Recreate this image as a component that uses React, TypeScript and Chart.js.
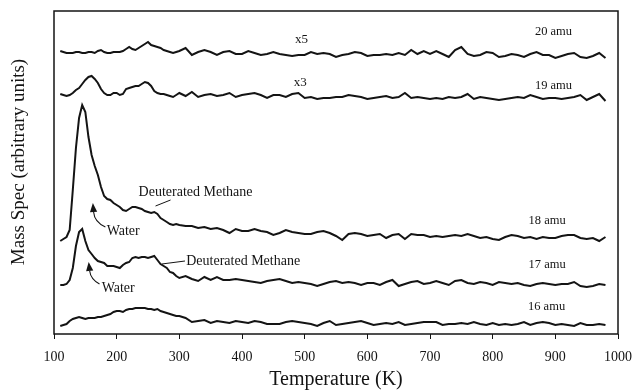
import React, { useEffect, useRef } from "react";
import { Chart, registerables } from "chart.js";

Chart.register(...registerables);

// Temperature grid (K)
const temperatures = [
  110, 115, 120, 125, 130, 135, 140, 145, 150, 155,
  160, 165, 170, 175, 180, 185, 190, 195, 200, 205,
  210, 215, 220, 225, 230, 235, 240, 245, 250, 255,
  260, 265, 270, 275, 280, 285, 290, 295, 300,
  310, 320, 330, 340, 350, 360, 370, 380, 390, 400,
  410, 420, 430, 440, 450, 460, 470, 480, 490, 500,
  510, 520, 530, 540, 550, 560, 570, 580, 590, 600,
  610, 620, 630, 640, 650, 660, 670, 680, 690, 700,
  710, 720, 730, 740, 750, 760, 770, 780, 790, 800,
  810, 820, 830, 840, 850, 860, 870, 880, 890, 900,
  910, 920, 930, 940, 950, 960, 970, 980,
];

// Offset traces, arbitrary units
const amu20 = [
  283, 282, 281, 281, 281, 282, 282, 281, 281, 282,
  282, 281, 283, 284, 282, 281, 281, 282, 282, 282,
  283, 285, 287, 285, 284, 286, 288, 290, 292, 289,
  288, 287, 286, 284, 283, 282, 281, 282, 283,
  286, 279, 282, 284, 282, 279, 282, 283, 280, 280,
  283, 281, 279, 280, 282, 280, 279, 278, 279, 279,
  282, 280, 281, 280, 277, 279, 280, 282, 281, 278,
  279, 279, 280, 279, 281, 279, 284, 280, 283, 280,
  283, 280, 277, 284, 287, 280, 278, 279, 282, 281,
  277, 278, 280, 279, 277, 280, 282, 279, 279, 276,
  278, 280, 281, 277, 276, 278, 281, 276,
];

const amu19 = [
  240, 239, 238, 239, 241, 244, 246, 250, 254, 257,
  258, 255, 251, 245, 241, 239, 239, 241, 241, 239,
  240, 245, 246, 247, 248, 248, 250, 252, 251, 248,
  243, 241, 240, 240, 239, 238, 237, 239, 241,
  238, 242, 237, 239, 240, 238, 239, 241, 237, 239,
  240, 241, 239, 236, 239, 239, 237, 240, 241, 236,
  237, 235, 236, 236, 237, 237, 239, 238, 237, 235,
  236, 237, 238, 236, 237, 241, 236, 237, 236, 235,
  236, 235, 237, 236, 237, 240, 235, 237, 236, 235,
  234, 235, 236, 237, 236, 239, 237, 235, 236, 236,
  235, 236, 237, 239, 234, 237, 240, 233,
];

const amu18 = [
  93, 95, 97, 104, 144, 186, 216, 229, 222, 197,
  179, 168, 159, 147, 138, 135, 134, 131, 129, 127,
  124, 123, 125, 127, 127, 126, 125, 123, 122, 121,
  122, 120, 116, 114, 112, 110, 109, 110, 109,
  108, 108, 106, 107, 105, 106, 104, 101, 105, 103,
  103, 105, 103, 102, 99, 101, 104, 102, 101, 100,
  100, 102, 103, 101, 98, 94, 100, 101, 100, 98,
  99, 100, 96, 99, 100, 95, 100, 99, 99, 97,
  98, 97, 98, 99, 98, 100, 98, 96, 97, 95,
  94, 97, 99, 98, 96, 97, 95, 97, 96, 96,
  98, 99, 99, 96, 95, 96, 93, 97,
];

const amu17 = [
  49, 49, 50, 54, 66, 88, 102, 105, 93, 84,
  80, 76, 73, 72, 71, 68, 68, 68, 67, 66,
  69, 71, 72, 76, 77, 76, 77, 77, 76, 77,
  78, 74, 70, 68, 66, 62, 61, 58, 56,
  58, 55, 53, 57, 54, 57, 54, 54, 55, 54,
  53, 52, 51, 53, 54, 55, 53, 51, 52, 51,
  50, 48, 50, 52, 53, 51, 52, 51, 49, 51,
  51, 49, 52, 54, 48, 50, 52, 53, 50, 51,
  53, 51, 49, 53, 54, 51, 50, 52, 51, 49,
  52, 51, 50, 51, 49, 48, 50, 51, 50, 49,
  50, 50, 52, 48, 47, 48, 50, 49,
];

const amu16 = [
  8, 9, 10, 13, 15, 16, 17, 16, 15, 16,
  16, 16, 17, 17, 18, 19, 20, 22, 23, 23,
  22, 24, 25, 25, 26, 26, 26, 26, 25, 25,
  24, 25, 23, 22, 21, 20, 19, 18, 18,
  16, 12, 13, 14, 11, 13, 12, 11, 13, 12,
  11, 13, 12, 10, 10, 10, 12, 13, 12, 11,
  10, 8, 11, 13, 9, 10, 11, 12, 13, 11,
  9, 10, 11, 10, 12, 9, 10, 11, 12, 12,
  12, 9, 10, 10, 11, 10, 12, 10, 9, 11,
  9, 10, 9, 10, 12, 9, 11, 12, 11, 9,
  10, 9, 8, 11, 9, 9, 10, 9,
];

const seriesNames = ["20 amu", "19 amu", "18 amu", "17 amu", "16 amu"];
const xTicks = [100, 200, 300, 400, 500, 600, 700, 800, 900, 1000];
const yTitle = "Mass Spec (arbitrary units)";
const xTitle = "Temperature (K)";

// Trace labels (data coordinates: K, arbitrary units)
const traceLabelT = [897, 897, 887, 887, 886];
const traceLabelV = [302, 248, 113, 69, 27];
const gainText = ["x5", "x3"];
const gainT = [495, 493];
const gainV = [294, 251];

const SERIF = "'Liberation Serif', 'Times New Roman', 'DejaVu Serif', serif";
const INK = "#141414";

export default function App() {
  const ref = useRef<HTMLCanvasElement>(null);

  useEffect(() => {
    if (!ref.current) return;
    const series = [amu20, amu19, amu18, amu17, amu16];
    const datasets = series.map((vals, i) => ({
      label: seriesNames[i],
      data: temperatures.map((t, j) => ({ x: t, y: vals[j] })),
      borderColor: INK,
      borderWidth: 2,
      pointRadius: 0,
      tension: 0,
      fill: false,
    }));

    const annotations = {
      id: "annotations",
      afterDatasetsDraw(chart: any) {
        const { ctx, chartArea } = chart;
        const xs = chart.scales.x;
        const ys = chart.scales.y;
        const px = (t: number) => xs.getPixelForValue(t);
        const py = (v: number) => ys.getPixelForValue(v);
        ctx.save();
        // frame
        ctx.strokeStyle = INK;
        ctx.lineWidth = 1.5;
        ctx.strokeRect(chartArea.left, chartArea.top, chartArea.right - chartArea.left, chartArea.bottom - chartArea.top);

        ctx.fillStyle = INK;
        // y-axis title
        ctx.save();
        ctx.font = `19px ${SERIF}`;
        ctx.textAlign = "center";
        ctx.textBaseline = "middle";
        ctx.translate(19, py(172));
        ctx.rotate(-Math.PI / 2);
        ctx.fillText(yTitle, 0, 0);
        ctx.restore();

        ctx.textBaseline = "middle";
        ctx.textAlign = "center";
        ctx.font = `12.5px ${SERIF}`;
        seriesNames.forEach((s, i) => ctx.fillText(s, px(traceLabelT[i]), py(traceLabelV[i])));
        ctx.font = `13px ${SERIF}`;
        gainText.forEach((s, i) => ctx.fillText(s, px(gainT[i]), py(gainV[i])));

        ctx.textAlign = "left";
        ctx.font = `14px ${SERIF}`;
        ctx.fillText("Deuterated Methane", px(235), py(142));
        ctx.fillText("Deuterated Methane", px(311), py(73));
        ctx.fillText("Water", px(184), py(103));
        ctx.fillText("Water", px(176), py(46));

        ctx.lineWidth = 1;
        ctx.beginPath();
        ctx.moveTo(px(262), py(128));
        ctx.lineTo(px(286), py(134));
        ctx.moveTo(px(272), py(70));
        ctx.lineTo(px(309), py(73));
        ctx.stroke();

        const arrow = (tipT: number, tipV: number, cT: number, cV: number, eT: number, eV: number) => {
          const tx = px(tipT), ty = py(tipV);
          const cx = px(cT), cy = py(cV);
          const ex = px(eT), ey = py(eV);
          const dx = cx - tx, dy = cy - ty;
          const len = Math.hypot(dx, dy) || 1;
          const ux = dx / len, uy = dy / len;
          const hl = 9, hw = 3.6;
          const bx = tx + ux * hl, by = ty + uy * hl;
          ctx.beginPath();
          ctx.moveTo(tx, ty);
          ctx.lineTo(bx - uy * hw, by + ux * hw);
          ctx.lineTo(bx + uy * hw, by - ux * hw);
          ctx.closePath();
          ctx.fill();
          ctx.beginPath();
          ctx.moveTo(bx, by);
          ctx.quadraticCurveTo(cx, cy, ex, ey);
          ctx.lineWidth = 1.1;
          ctx.stroke();
        };
        arrow(162, 131, 164.5, 112, 182, 107);
        arrow(155.3, 72, 158.4, 55, 172.6, 50);
        ctx.restore();
      },
    };

    const chart = new Chart(ref.current, {
      type: "line",
      data: { datasets },
      options: {
        animation: false,
        responsive: true,
        maintainAspectRatio: false,
        layout: { padding: { top: 11, right: 15, left: 0, bottom: 0 } },
        plugins: { legend: { display: false }, tooltip: { enabled: false } },
        scales: {
          x: {
            type: "linear",
            min: 100,
            max: 1000,
            afterBuildTicks: (s: any) => {
              s.ticks = xTicks.map((v) => ({ value: v }));
            },
            ticks: {
              font: { family: SERIF, size: 14 },
              color: INK,
              padding: 10,
              maxRotation: 0,
              autoSkip: false,
              callback: (v: any) => String(v),
            },
            grid: {
              display: true,
              drawOnChartArea: false,
              drawTicks: true,
              tickLength: 5,
              color: INK,
              lineWidth: 1,
            },
            border: { display: false },
            title: {
              display: true,
              text: xTitle,
              font: { family: SERIF, size: 20 },
              color: INK,
              padding: { top: 0, bottom: 0 },
            },
            afterFit: (s: any) => {
              s.height = 58;
            },
          },
          y: {
            min: 0,
            max: 323,
            ticks: { display: false },
            grid: { display: false, drawTicks: false },
            border: { display: false },
            title: { display: false },
            afterFit: (s: any) => {
              s.width = 54;
            },
          },
        },
      },
      plugins: [annotations],
    });
    return () => chart.destroy();
  }, []);

  return (
    <div style={{ position: "absolute", left: 0, top: 0, width: 642, height: 392, background: "#fff" }}>
      <canvas ref={ref} />
    </div>
  );
}
